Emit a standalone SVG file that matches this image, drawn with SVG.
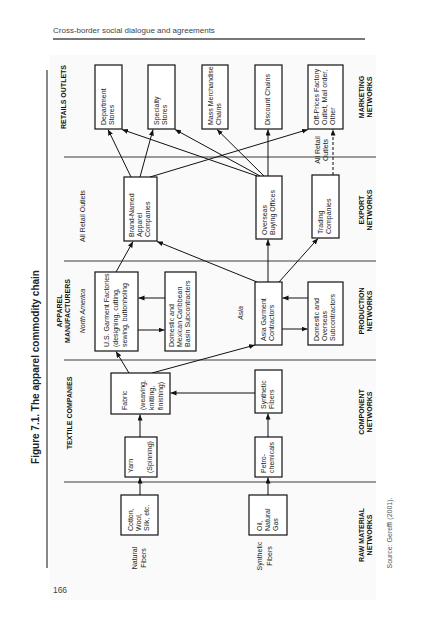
<svg xmlns="http://www.w3.org/2000/svg" width="427" height="640" viewBox="0 0 427 640">
<defs>
<marker id="ah" markerUnits="userSpaceOnUse" markerWidth="7" markerHeight="6" refX="6" refY="2.5" orient="auto">
<path d="M0,0 L6,2.5 L0,5 z" fill="#111"/>
</marker>
<style>
.box{fill:#fff;stroke:#111;stroke-width:1.2}
.t{font-family:"Liberation Sans",Arial,sans-serif;font-size:7px;fill:#222}
.b{font-weight:bold;fill:#111}
.i{font-style:italic}
.sep{stroke:#9a9a9a;stroke-width:2}
.arr{stroke:#111;stroke-width:1;fill:none;marker-end:url(#ah)}
.dash{stroke:#333;stroke-width:1.2;fill:none;stroke-dasharray:3,2;marker-end:url(#ah)}
</style>
</defs>
<rect x="0" y="0" width="427" height="640" fill="#fff"/>
<rect x="50" y="55" width="326" height="545" fill="#fafafa"/>

<g id="page-header">
<text x="53" y="33" style="font-family:'Liberation Sans',Arial,sans-serif;font-size:8px;fill:#444">Cross-border social dialogue and agreements</text>
<line x1="53" y1="39" x2="365" y2="39" stroke="#777" stroke-width="2"/>
<line x1="47" y1="70" x2="47" y2="568" stroke="#111" stroke-width="1"/>
<text transform="rotate(-90)" x="-367" y="38.5" text-anchor="middle" style="font-family:'Liberation Sans',Arial,sans-serif;font-size:10px;font-weight:bold;fill:#222">Figure 7.1. The apparel commodity chain</text>
<text x="60" y="593" text-anchor="middle" style="font-family:'Liberation Sans',Arial,sans-serif;font-size:8.5px;fill:#444">166</text>
</g>

<g id="bands">
<line class="sep" x1="64" y1="157" x2="376" y2="157"/>
<line class="sep" x1="64" y1="261" x2="376" y2="261"/>
<line class="sep" x1="64" y1="360" x2="376" y2="360"/>
<line class="sep" x1="64" y1="482" x2="376" y2="482"/>
<g transform="rotate(-90)">
<text class="t b" x="-97" y="66" text-anchor="middle">RETAILS OUTLETS</text>
<text class="t" x="-216" y="84.5" text-anchor="middle">All Retail Outlets</text>
<text class="t b" x="-311" y="61.5" text-anchor="middle">APPAREL</text>
<text class="t b" x="-311" y="69.5" text-anchor="middle">MANUFACTURERS</text>
<text class="t i" x="-311" y="84.5" text-anchor="middle">North America</text>
<text class="t b" x="-413" y="71.5" text-anchor="middle">TEXTILE COMPANIES</text>
<text class="t i" x="-313" y="242.5" text-anchor="middle">Asia</text>
<text class="t" x="-150" y="320" text-anchor="middle"><tspan x="-150" y="320">All Retail</tspan><tspan x="-150" y="327.5">Outlets</tspan></text>
<text class="t" x="-558" y="136.5" text-anchor="middle"><tspan x="-558" y="136.5">Natural</tspan><tspan x="-558" y="146">Fibers</tspan></text>
<text class="t" x="-556" y="262" text-anchor="middle"><tspan x="-556" y="262">Synthetic</tspan><tspan x="-556" y="271.5">Fibers</tspan></text>
<text class="t b" x="-97" y="363.5" text-anchor="middle"><tspan x="-97" y="363.5">MARKETING</tspan><tspan x="-97" y="371.5">NETWORKS</tspan></text>
<text class="t b" x="-210" y="363.5" text-anchor="middle"><tspan x="-210" y="363.5">EXPORT</tspan><tspan x="-210" y="371.5">NETWORKS</tspan></text>
<text class="t b" x="-311" y="363.5" text-anchor="middle"><tspan x="-311" y="363.5">PRODUCTION</tspan><tspan x="-311" y="371.5">NETWORKS</tspan></text>
<text class="t b" x="-412" y="363.5" text-anchor="middle"><tspan x="-412" y="363.5">COMPONENT</tspan><tspan x="-412" y="371.5">NETWORKS</tspan></text>
<text class="t b" x="-535" y="363.5" text-anchor="middle"><tspan x="-535" y="363.5">RAW MATERIAL</tspan><tspan x="-535" y="371.5">NETWORKS</tspan></text>
<text class="t" x="-533" y="391.5" text-anchor="middle" style="fill:#555">Source: Gereffi (2001).</text>
</g>
</g>

<g id="connectors">
<path class="arr" d="M140,495 L140,477.5"/>
<path class="arr" d="M140,437 L140,414.5"/>
<path class="arr" d="M268,495 L268,477.5"/>
<path class="arr" d="M268,437 L268,413.5"/>
<path class="arr" d="M255,393 L170.5,393"/>
<path class="arr" d="M129,373 L116,351.5"/>
<path class="arr" d="M152,373 L255,345"/>
<path class="arr" d="M165,298 L138.5,298"/>
<path class="arr" d="M138,330 L164.5,330"/>
<path class="arr" d="M116,272 L133,241.5"/>
<path class="arr" d="M257,282 L157,241.5"/>
<path class="arr" d="M268,282 L268,239.5"/>
<path class="arr" d="M308,298 L282.5,298"/>
<path class="arr" d="M282,329 L307.5,329"/>
<path class="arr" d="M279,282 L318,238.5"/>
<path class="arr" d="M131,177 L108,129.5"/>
<path class="arr" d="M140,177 L153,129.5"/>
<path class="arr" d="M150,177 L308,129.5"/>
<path class="arr" d="M257,176 L122,129.5"/>
<path class="arr" d="M260,176 L175,129.5"/>
<path class="arr" d="M264,176 L217,129.5"/>
<path class="arr" d="M268,176 L268,129.5"/>
<path class="dash" d="M333,175 L333,129.5"/>
</g>

<g id="department-stores">
<rect class="box" x="95" y="65" width="27" height="64"/>
<text class="t" transform="rotate(-90)"><tspan x="-125" y="106.3">Department</tspan><tspan x="-125" y="114.3">Stores</tspan></text>
</g>
<g id="specialty-stores">
<rect class="box" x="148" y="65" width="27" height="64"/>
<text class="t" transform="rotate(-90)"><tspan x="-125" y="159.3">Specialty</tspan><tspan x="-125" y="167.3">Stores</tspan></text>
</g>
<g id="mass-merchandise-chains">
<rect class="box" x="202" y="65" width="26" height="64"/>
<text class="t" transform="rotate(-90)"><tspan x="-125" y="212.8">Mass Merchandise</tspan><tspan x="-125" y="220.8">Chains</tspan></text>
</g>
<g id="discount-chains">
<rect class="box" x="255" y="65" width="27" height="64"/>
<text class="t" transform="rotate(-90)"><tspan x="-125" y="270.3">Discount Chains</tspan></text>
</g>
<g id="off-prices">
<rect class="box" x="308" y="65" width="35" height="64"/>
<text class="t" transform="rotate(-90)"><tspan x="-125" y="319.3">Off-Prices Factory</tspan><tspan x="-125" y="327.3">Outlet, Mail order,</tspan><tspan x="-125" y="335.3">Other</tspan></text>
</g>

<g id="brand-named">
<rect class="box" x="124" y="177" width="33" height="64"/>
<text class="t" transform="rotate(-90)"><tspan x="-237" y="134.3">Brand-Named</tspan><tspan x="-237" y="142.3">Apparel</tspan><tspan x="-237" y="150.3">Companies</tspan></text>
</g>
<g id="overseas-buying">
<rect class="box" x="256" y="176" width="26" height="63"/>
<text class="t" transform="rotate(-90)"><tspan x="-235" y="266.8">Overseas</tspan><tspan x="-235" y="274.8">Buying Offices</tspan></text>
</g>
<g id="trading-companies">
<rect class="box" x="312" y="175" width="27" height="63"/>
<text class="t" transform="rotate(-90)"><tspan x="-234" y="323.3">Trading</tspan><tspan x="-234" y="331.3">Companies</tspan></text>
</g>

<g id="us-garment">
<rect class="box" x="95" y="272" width="43" height="79"/>
<text class="t" transform="rotate(-90)"><tspan x="-347" y="109.3">U.S. Garment Factories</tspan><tspan x="-347" y="118.3">(designing, cutting,</tspan><tspan x="-347" y="127.3">sewing, buttonholing</tspan></text>
</g>
<g id="domestic-mexican">
<rect class="box" x="165" y="272" width="31" height="79"/>
<text class="t" transform="rotate(-90)"><tspan x="-347" y="174.3">Domestic and</tspan><tspan x="-347" y="182.3">Mexican Caribbean</tspan><tspan x="-347" y="190.3">Basin Subcontracters</tspan></text>
</g>
<g id="asia-garment">
<rect class="box" x="255" y="282" width="27" height="63"/>
<text class="t" transform="rotate(-90)"><tspan x="-341" y="266.3">Asia Garment</tspan><tspan x="-341" y="274.3">Contractors</tspan></text>
</g>
<g id="domestic-overseas">
<rect class="box" x="308" y="282" width="35" height="63"/>
<text class="t" transform="rotate(-90)"><tspan x="-341" y="319.3">Domestic and</tspan><tspan x="-341" y="327.3">Overseas</tspan><tspan x="-341" y="335.3">Subcontractors</tspan></text>
</g>

<g id="fabric">
<rect class="box" x="111" y="373" width="59" height="41"/>
<text class="t" transform="rotate(-90)"><tspan x="-410" y="127">Fabric</tspan><tspan x="-410" y="145">(weaving,</tspan><tspan x="-410" y="154">knitting,</tspan><tspan x="-410" y="163">finishing)</tspan></text>
</g>
<g id="synthetic-fibers">
<rect class="box" x="255" y="370" width="27" height="43"/>
<text class="t" transform="rotate(-90)"><tspan x="-409" y="266.3">Synthetic</tspan><tspan x="-409" y="274.3">Fibers</tspan></text>
</g>
<g id="yarn">
<rect class="box" x="125" y="437" width="32" height="40"/>
<text class="t" transform="rotate(-90)"><tspan x="-473" y="133">Yarn</tspan><tspan x="-473" y="152">(Spinning)</tspan></text>
</g>
<g id="petro-chemicals">
<rect class="box" x="255" y="437" width="27" height="40"/>
<text class="t" transform="rotate(-90)"><tspan x="-473" y="266.3">Petro-</tspan><tspan x="-473" y="274.3">chemicals</tspan></text>
</g>
<g id="cotton">
<rect class="box" x="121" y="495" width="37" height="40"/>
<text class="t" transform="rotate(-90)"><tspan x="-531" y="133.3">Cotton,</tspan><tspan x="-531" y="141.3">Wool,</tspan><tspan x="-531" y="149.3">Silk, etc.</tspan></text>
</g>
<g id="oil-gas">
<rect class="box" x="249" y="495" width="38" height="40"/>
<text class="t" transform="rotate(-90)"><tspan x="-531" y="261.8">Oil,</tspan><tspan x="-531" y="269.8">Natural</tspan><tspan x="-531" y="277.8">Gas</tspan></text>
</g>
</svg>
